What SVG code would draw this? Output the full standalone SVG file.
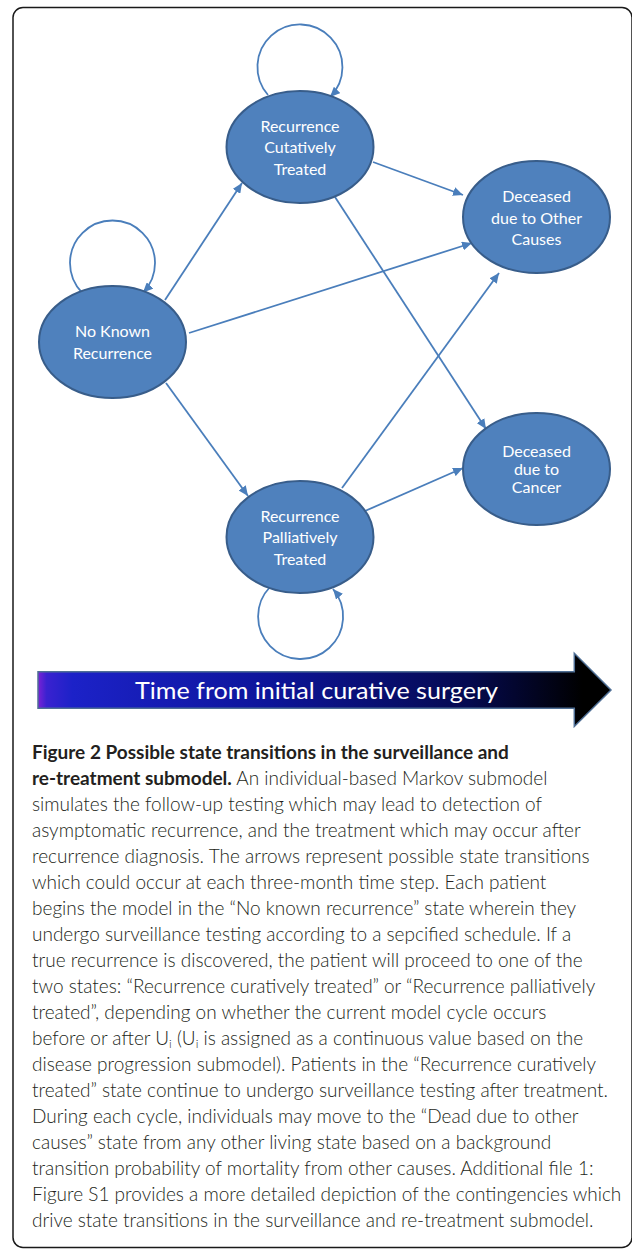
<svg xmlns="http://www.w3.org/2000/svg" width="632" height="1250" viewBox="0 0 632 1250">
<style>
.node ellipse{fill:#4f81bd;stroke:#385d8a;stroke-width:2}
.node text{font-family:Lato,"Open Sans","Liberation Sans",sans-serif;font-size:16px;fill:#ffffff;text-anchor:middle}
.edge{fill:none;stroke:#4a7ebb;stroke-width:1.8;marker-end:url(#ah)}
.cap{font-family:Lato,"Open Sans","Liberation Sans",sans-serif;font-size:19px;font-weight:300;fill:#231f20}
.b{font-weight:bold}
</style>
<defs>
<marker id="ah" markerUnits="userSpaceOnUse" markerWidth="10" markerHeight="9" refX="10" refY="4.5" orient="auto" viewBox="0 0 10 9">
<path d="M0,0 L10,4.5 L0,9 z" fill="#4a7ebb"/>
</marker>
<linearGradient id="tg" gradientUnits="userSpaceOnUse" x1="38" y1="0" x2="611" y2="0">
<stop offset="0" stop-color="#7a22d6"/>
<stop offset="0.015" stop-color="#3a22d0"/>
<stop offset="0.06" stop-color="#1c22c8"/>
<stop offset="0.4" stop-color="#0d159a"/>
<stop offset="0.75" stop-color="#050a50"/>
<stop offset="0.95" stop-color="#000000"/>
</linearGradient>
</defs>
<rect id="frame" x="13" y="7.5" width="619" height="1240" rx="10" ry="10" fill="none" stroke="#1a1a1a" stroke-width="1.5"/>
<g id="connectors">
<path class="edge" d="M165,300 L242,183"/>
<path class="edge" d="M189,333 L472,243"/>
<path class="edge" d="M166,383 L248,496"/>
<path class="edge" d="M373,162 L463,195"/>
<path class="edge" d="M335,197 L486,429"/>
<path class="edge" d="M342,488 L499,273"/>
<path class="edge" d="M365,511 L463,468"/>
<path class="edge" d="M268,95 A42.5,42.5 0 1 1 330,97"/>
<path class="edge" d="M82,292.6 A42.5,42.5 0 1 1 143,292.6"/>
<path class="edge" d="M270,587 A42.5,42.5 0 1 0 333,589"/>
</g>
<g id="n-curative" class="node">
<ellipse cx="300" cy="147" rx="73.5" ry="56"/>
<text x="300" y="131.5">Recurrence</text>
<text x="300" y="153">Cutatively</text>
<text x="300" y="174.5">Treated</text>
</g>
<g id="n-other" class="node">
<ellipse cx="536.5" cy="217" rx="73.5" ry="56"/>
<text x="536.5" y="201.5">Deceased</text>
<text x="536.5" y="223.5">due to Other</text>
<text x="536.5" y="244.5">Causes</text>
</g>
<g id="n-nkr" class="node">
<ellipse cx="112.5" cy="342" rx="73.5" ry="56"/>
<text x="112.5" y="337">No Known</text>
<text x="112.5" y="358.5">Recurrence</text>
</g>
<g id="n-cancer" class="node">
<ellipse cx="536.5" cy="469" rx="73.5" ry="56"/>
<text x="536.5" y="457">Deceased</text>
<text x="536.5" y="475">due to</text>
<text x="536.5" y="493">Cancer</text>
</g>
<g id="n-palliative" class="node">
<ellipse cx="300" cy="537" rx="73.5" ry="56"/>
<text x="300" y="521.5">Recurrence</text>
<text x="300" y="543">Palliatively</text>
<text x="300" y="564.5">Treated</text>
</g>
<g id="time-arrow">
<path d="M38,671.7 L574.3,671.7 L574.3,653.3 L611,690 L574.3,726.5 L574.3,708.3 L38,708.3 z" fill="url(#tg)" stroke="#4f6f95" stroke-width="1.5"/>
<text x="316.5" y="698.5" font-family="Lato,'Open Sans','Liberation Sans',sans-serif" font-size="24px" fill="#ffffff" text-anchor="middle" textLength="363" lengthAdjust="spacingAndGlyphs">Time from initial curative surgery</text>
</g>
<g id="caption" class="cap">
<text x="32" y="759"><tspan class="b">Figure 2 Possible state transitions in the surveillance and</tspan></text>
<text x="32" y="785"><tspan class="b">re-treatment submodel.</tspan> An individual-based Markov submodel</text>
<text x="32" y="811">simulates the follow-up testing which may lead to detection of</text>
<text x="32" y="837">asymptomatic recurrence, and the treatment which may occur after</text>
<text x="32" y="863">recurrence diagnosis. The arrows represent possible state transitions</text>
<text x="32" y="889">which could occur at each three-month time step. Each patient</text>
<text x="32" y="915">begins the model in the “No known recurrence” state wherein they</text>
<text x="32" y="941">undergo surveillance testing according to a sepcified schedule. If a</text>
<text x="32" y="967">true recurrence is discovered, the patient will proceed to one of the</text>
<text x="32" y="993">two states: “Recurrence curatively treated” or “Recurrence palliatively</text>
<text x="32" y="1019">treated”, depending on whether the current model cycle occurs</text>
<text x="32" y="1045">before or after U<tspan font-size="12px" dy="3">i</tspan><tspan dy="-3"> (U</tspan><tspan font-size="12px" dy="3">i</tspan><tspan dy="-3"> is assigned as a continuous value based on the</tspan></text>
<text x="32" y="1071">disease progression submodel). Patients in the “Recurrence curatively</text>
<text x="32" y="1097">treated” state continue to undergo surveillance testing after treatment.</text>
<text x="32" y="1123">During each cycle, individuals may move to the “Dead due to other</text>
<text x="32" y="1149">causes” state from any other living state based on a background</text>
<text x="32" y="1175">transition probability of mortality from other causes. Additional file 1:</text>
<text x="32" y="1201">Figure S1 provides a more detailed depiction of the contingencies which</text>
<text x="32" y="1227">drive state transitions in the surveillance and re-treatment submodel.</text>
</g>
</svg>
